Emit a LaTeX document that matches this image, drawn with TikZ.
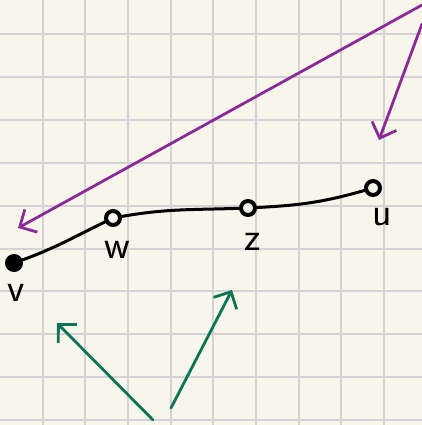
\documentclass[tikz,border=0pt]{standalone}
\usepackage{xcolor}
\usetikzlibrary{arrows.meta, positioning}
\definecolor{paper}{HTML}{F8F6EB}
\definecolor{gridgray}{HTML}{D3D3D5}
\definecolor{penpurple}{HTML}{8A2B98}
\definecolor{pengreen}{HTML}{0B7456}
\tikzset{
    sketch/.style={x=1pt, y=-1pt, line cap=round, line join=round},
    gridline/.style={draw=gridgray, line width=2pt, line cap=butt},
    vertex/.style={draw, circle, line width=4pt, fill=paper, minimum size=14pt, inner sep=0pt},
    endvertex/.style={vertex, fill=black},
    edge/.style={line width=3pt},
    vlabel/.style={font=\sffamily\fontsize{40}{40}\selectfont, inner sep=0pt},
    % open hand-drawn heads
    purplearrow/.style={draw=penpurple, line width=2.8pt, -{Straight Barb[length=13pt, width=26pt]}},
    greenarrow/.style={draw=pengreen, line width=2.8pt, -{Straight Barb[length=13pt, width=26pt]}},
}
\begin{document}
\begin{tikzpicture}[sketch]
        \useasboundingbox (0,0) rectangle (422,425);
        \fill[paper] (0,0) rectangle (422,425);
        \foreach \gx in {1,...,9}
            \draw[gridline] (42.67*\gx,0) -- (42.67*\gx,425);
        \foreach \gy in {0,...,9}
            \draw[gridline] (0,34.3+42.85*\gy) -- (422,34.3+42.85*\gy);

        \node[endvertex] (v) at (14,263)  {};
        \node[vertex]    (w) at (113,218) {};
        \node[vertex]    (z) at (248,208) {};
        \node[vertex]    (u) at (373,188) {};

        \node[vlabel, below=12pt of v, xshift=2pt]    (vl) {v};
        \node[vlabel, below=14pt of w, xshift=4pt]    (wl) {w};
        \node[vlabel, below=16pt of z, xshift=5pt]    (zl) {z};
        \node[vlabel, below=11pt of u, xshift=9pt]    (ul) {u};

        \draw[edge] (v) to[out=20, in=206] (w);
        \draw[edge] (w) to[out=10, in=182] (z);
        \draw[edge] (z) to[out=3, in=196] (u);

        \coordinate (p1) at (422,5);
        \coordinate (p2) at (422,24);
        \coordinate (ptip1) at (18,228);
        \coordinate (ptip2) at (379,140);
        \draw[purplearrow] (p1) -- (ptip1);
        \draw[purplearrow] (p2) -- (ptip2);

        \coordinate (g1) at (153,420);
        \coordinate (g2) at (171,408);
        \coordinate (gtip1) at (57,323);
        \coordinate (gtip2) at (232,290);
        \draw[greenarrow] (g1) -- (gtip1);
        \draw[greenarrow] (g2) -- (gtip2);
    \end{tikzpicture}
\end{document}
